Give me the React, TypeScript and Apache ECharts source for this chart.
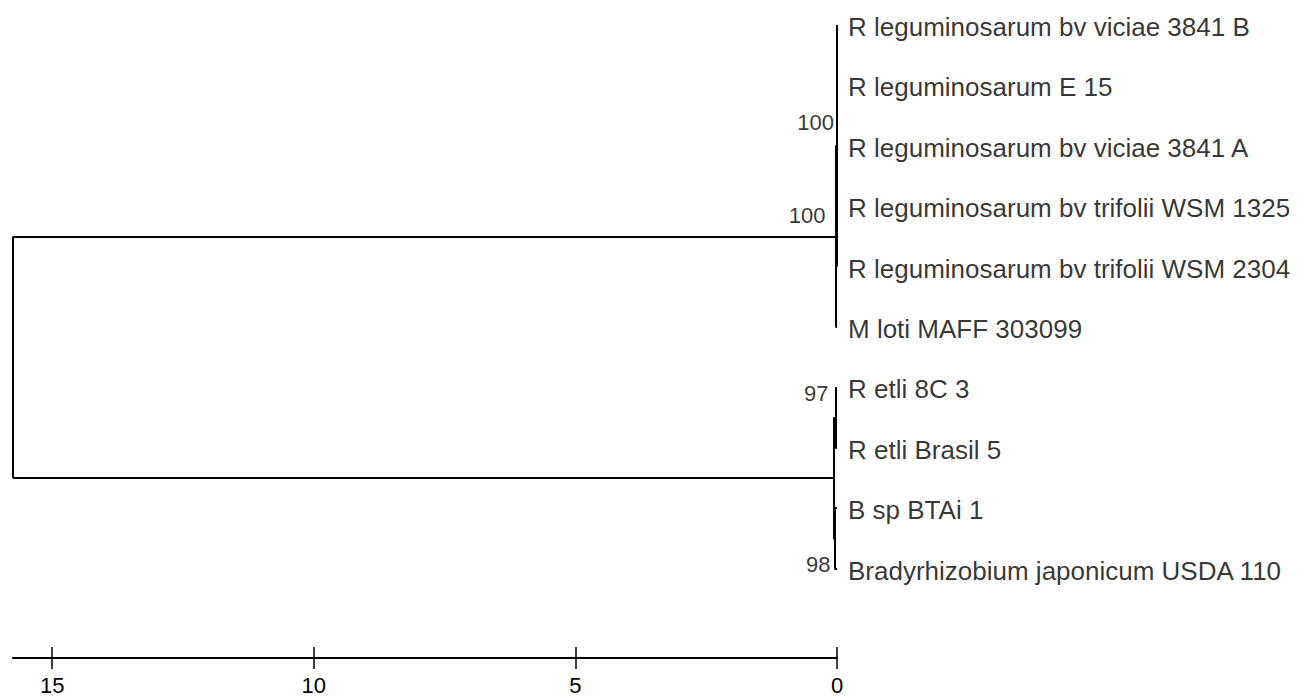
import React, { useEffect, useRef } from "react";
import * as echarts from "echarts";

// Leaves, top to bottom
const leafNames = [
  "R leguminosarum bv viciae 3841 B",
  "R leguminosarum E 15",
  "R leguminosarum bv viciae 3841 A",
  "R leguminosarum bv trifolii WSM 1325",
  "R leguminosarum bv trifolii WSM 2304",
  "M loti MAFF 303099",
  "R etli 8C 3",
  "R etli Brasil 5",
  "B sp BTAi 1",
  "Bradyrhizobium japonicum USDA 110",
];

// Internal nodes (children listed before parents)
const nodeIds = ["n1", "n2", "n3", "n5", "n4", "root"];
const nodeHeights = [0, 0.028, 0.03, 0.048, 0.068, 15.75];
const nodeChildren = [
  ["L0", "L1", "L2", "L3", "L4"],
  ["n1", "L5"],
  ["L6", "L7"],
  ["L8", "L9"],
  ["n3", "n5"],
  ["n2", "n4"],
];
const bootstrapValues = [100, 100, 97, 98, null, null];

// Axis ticks
const tickValues = [0, 5, 10, 15];

// label placement (styling only)
const bootstrapOffsets: Record<string, [number, number]> = {
  n1: [-3, -23],
  n2: [-10, -21],
  n3: [-7, -24],
  n5: [-4, 26],
};

function buildTree() {
  const pos: Record<string, { x: number; y: number }> = {};
  leafNames.forEach((_, i) => {
    pos["L" + i] = { x: 0, y: i };
  });
  const segs: number[][][] = [];
  nodeIds.forEach((id, k) => {
    const ch = nodeChildren[k].map((c) => pos[c]);
    const h = nodeHeights[k];
    const y0 = ch[0].y;
    const y1 = ch[ch.length - 1].y;
    pos[id] = { x: h, y: (y0 + y1) / 2 };
    if (y1 !== y0) segs.push([[h, y0], [h, y1]]);
    ch.forEach((c) => {
      if (c.x !== h) segs.push([[h, c.y], [c.x, c.y]]);
    });
  });
  return { pos, segs };
}

const GRID_TOP = 25;
const GRID_BOTTOM = 38;
const H = 696;
const Y_MAX = 10.48;
const TICK_PX = 11;

export default function App() {
  const ref = useRef<HTMLDivElement>(null);
  useEffect(() => {
    if (!ref.current) return;
    const chart = echarts.init(ref.current, null, { renderer: "svg" });
    const { pos, segs } = buildTree();
    const font = "Liberation Sans, Arial, sans-serif";
    const unitPx = (H - GRID_TOP - GRID_BOTTOM) / Y_MAX;
    const tickUp = TICK_PX / unitPx;
    const option: any = {
      animation: false,
      backgroundColor: "#ffffff",
      grid: { left: 13, right: 466, top: GRID_TOP, bottom: GRID_BOTTOM, containLabel: false },
      xAxis: {
        type: "value",
        min: 0,
        max: 15.75,
        inverse: true,
        position: "bottom",
        splitLine: { show: false },
        axisLine: { show: true, onZero: false, lineStyle: { color: "#000", width: 2 } },
        axisTick: {
          show: true,
          inside: false,
          length: TICK_PX,
          customValues: tickValues,
          lineStyle: { color: "#000", width: 1.5 },
        },
        axisLabel: {
          show: true,
          customValues: tickValues,
          color: "#000",
          fontSize: 22,
          fontFamily: font,
          margin: 16,
        },
      },
      yAxis: {
        type: "value",
        min: 0,
        max: Y_MAX,
        inverse: true,
        show: false,
      },
      series: [
        {
          type: "lines",
          coordinateSystem: "cartesian2d",
          silent: true,
          lineStyle: { color: "#000", width: 2, opacity: 1 },
          data: segs.map((s) => ({ coords: s })),
        },
        {
          // upper half of the crossing scale ticks
          type: "lines",
          coordinateSystem: "cartesian2d",
          silent: true,
          lineStyle: { color: "#000", width: 1.5, opacity: 1 },
          data: tickValues.map((v) => ({ coords: [[v, Y_MAX], [v, Y_MAX - tickUp]] })),
        },
        {
          type: "scatter",
          symbolSize: 0,
          silent: true,
          label: {
            show: true,
            position: "right",
            distance: 11,
            offset: [0, 2],
            color: "#000",
            fontSize: 26,
            fontFamily: font,
            formatter: (p: any) => p.data.name,
          },
          data: leafNames.map((n, i) => ({ name: n, value: [pos["L" + i].x, pos["L" + i].y] })),
        },
        {
          type: "scatter",
          symbolSize: 0,
          silent: true,
          label: {
            show: true,
            position: "left",
            distance: 0,
            color: "#000",
            fontSize: 22,
            fontFamily: font,
            formatter: (p: any) => String(p.data.bs),
          },
          data: nodeIds
            .map((id, k) => ({ id, k }))
            .filter((o) => bootstrapValues[o.k] !== null)
            .map((o) => ({
              bs: bootstrapValues[o.k],
              value: [pos[o.id].x, pos[o.id].y],
              label: { offset: bootstrapOffsets[o.id] || [0, 0] },
            })),
        },
      ],
    };
    chart.setOption(option);
    return () => chart.dispose();
  }, []);
  return (
    <div
      ref={ref}
      style={{ position: "fixed", left: 0, top: 0, width: 1303, height: H, background: "#fff" }}
    />
  );
}
